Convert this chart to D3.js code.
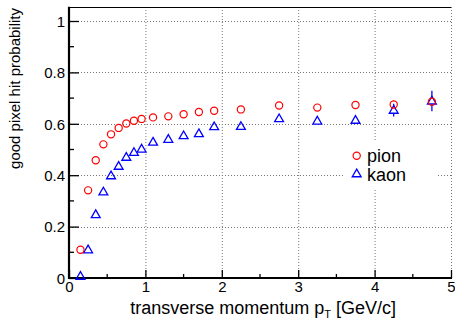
<!DOCTYPE html>
<html><head><meta charset="utf-8">
<script src="https://cdn.jsdelivr.net/npm/d3@7"></script>
<style>body{margin:0;background:#fff}svg{display:block}text{font-family:"Liberation Sans",Arial,sans-serif}</style>
</head><body>
<script>
const pT = [0.15,0.25,0.35,0.45,0.55,0.65,0.75,0.85,0.95,1.1,1.3,1.5,1.7,1.9,2.25,2.75,3.25,3.75,4.25,4.75];
const pion = [0.11,0.341,0.458,0.52,0.559,0.584,0.601,0.612,0.619,0.625,0.629,0.637,0.646,0.651,0.656,0.671,0.663,0.673,0.675,0.686];
const kaon = [0.007,0.11,0.247,0.335,0.398,0.435,0.47,0.489,0.502,0.529,0.54,0.554,0.562,0.589,0.59,0.62,0.611,0.614,0.653,0.689];
const pionErr = [0,0,0,0,0,0,0,0,0,0,0,0,0,0,0,0,0,0,0.008,0.012];
const kaonErr = [0,0,0,0,0,0,0,0,0,0,0,0,0,0,0,0,0,0,0.025,0.04];
const xTicks = [0,1,2,3,4,5];
const yTicks = [0,0.2,0.4,0.6,0.8,1];
const yTickLabels = ["0","0.2","0.4","0.6","0.8","1"];
const seriesNames = ["pion","kaon"];

const W=455,H=322;
const x = d3.scaleLinear([0,5],[69,451]);
const y = d3.scaleLinear([0,1],[278,21]);
const yTop = 1.055;
const svg = d3.select("body").append("svg").attr("width",W).attr("height",H);

// grid
const grid = svg.append("g").attr("stroke","#777").attr("stroke-width",1).attr("stroke-dasharray","1,2");
xTicks.slice(1).forEach(t=>grid.append("line").attr("x1",x(t)+0.5).attr("x2",x(t)+0.5).attr("y1",y(0)).attr("y2",y(yTop)));
yTicks.slice(1).forEach(t=>grid.append("line").attr("x1",x(0)).attr("x2",x(5)).attr("y1",Math.round(y(t))+0.5).attr("y2",Math.round(y(t))+0.5));

// frame top
svg.append("line").attr("x1",x(0)).attr("x2",x(5)).attr("y1",Math.round(y(yTop))+0.5).attr("y2",Math.round(y(yTop))+0.5).attr("stroke","#000").attr("stroke-width",1);

// axes with inward ticks
const xAxis = d3.axisBottom(x).tickValues(xTicks).tickSize(-8).tickPadding(3).tickFormat(d3.format("d"));
const gx = svg.append("g").attr("transform",`translate(0,${y(0)})`).call(xAxis);
gx.selectAll(".tick line").attr("stroke","#000").attr("stroke-width",1.3);
const xMinor = d3.range(0.5,5,1);
gx.selectAll(".minor").data(xMinor).enter().append("line").attr("x1",d=>x(d)).attr("x2",d=>x(d)).attr("y1",0).attr("y2",-4).attr("stroke","#000").attr("stroke-width",1.3);
gx.select(".domain").remove();
gx.selectAll("text").attr("font-size",15).attr("fill","#000").attr("font-family","Liberation Sans, Arial, sans-serif");

const yAxis = d3.axisLeft(y).tickValues(yTicks).tickSize(-10).tickPadding(4).tickFormat((d,i)=>yTickLabels[i]);
const gy = svg.append("g").attr("transform",`translate(${x(0)},0)`).call(yAxis);
gy.selectAll(".tick line").attr("stroke","#000").attr("stroke-width",1.3);
const yMinor = d3.range(0.1,1.05,0.2);
gy.selectAll(".minor").data(yMinor).enter().append("line").attr("x1",0).attr("x2",5).attr("y1",d=>y(d)).attr("y2",d=>y(d)).attr("stroke","#000").attr("stroke-width",1.3);
gy.select(".domain").remove();
gy.selectAll("text").attr("font-size",15).attr("fill","#000").attr("font-family","Liberation Sans, Arial, sans-serif").attr("dy","0.35em");

// frame left & bottom (thick)
svg.append("line").attr("x1",x(0)).attr("x2",x(0)).attr("y1",y(yTop)).attr("y2",y(0)+1).attr("stroke","#000").attr("stroke-width",2.2);
svg.append("line").attr("x1",x(0)-1).attr("x2",x(5)+1).attr("y1",y(0)).attr("y2",y(0)).attr("stroke","#000").attr("stroke-width",2.2);

// titles
svg.append("text").attr("transform",`translate(20,8) rotate(-90)`).attr("text-anchor","end").attr("font-size",15).text("good pixel hit probability");
const xt = svg.append("text").attr("x",396).attr("y",314).attr("text-anchor","end").attr("font-size",18);
xt.append("tspan").text("transverse momentum p");
xt.append("tspan").attr("font-size",11).attr("dy",4).text("T");
xt.append("tspan").attr("dy",-4).text(" [GeV/c]");

// markers
const R=3.6;
function errBars(vals,errs,color){
  const g=svg.append("g").attr("stroke",color).attr("stroke-width",1.3);
  pT.forEach((p,i)=>{
    const e=errs[i]; if(!e) return;
    const cx=x(p), cy=y(vals[i]), t=y(vals[i]+e), b=y(vals[i]-e);
    if(cy-t>R){ g.append("line").attr("x1",cx).attr("x2",cx).attr("y1",t).attr("y2",cy-R); g.append("line").attr("x1",cx).attr("x2",cx).attr("y1",cy+R).attr("y2",b);}
  });
}
errBars(kaon,kaonErr,"#0000ff");
errBars(pion,pionErr,"#ff0000");
const tri = d3.symbol().type(d3.symbolTriangle).size(34);
svg.append("g").selectAll("path").data(pT).enter().append("path")
  .attr("d",tri).attr("transform",(d,i)=>`translate(${x(d)},${y(kaon[i])+0.5})`)
  .attr("fill","none").attr("stroke","#0000ff").attr("stroke-width",1.3);
svg.append("g").selectAll("circle").data(pT).enter().append("circle")
  .attr("cx",d=>x(d)).attr("cy",(d,i)=>y(pion[i])).attr("r",R)
  .attr("fill","none").attr("stroke","#ff0000").attr("stroke-width",1.2);

// legend
svg.append("rect").attr("x",344).attr("y",140).attr("width",93).attr("height",48).attr("fill","#fff");
const lg = svg.append("g");
lg.append("circle").attr("cx",356.7).attr("cy",155.7).attr("r",R).attr("fill","none").attr("stroke","#ff0000").attr("stroke-width",1.2);
lg.append("path").attr("d",tri).attr("transform","translate(356.7,174.2)").attr("fill","none").attr("stroke","#0000ff").attr("stroke-width",1.3);
lg.append("text").attr("x",367).attr("y",162).attr("font-size",18).text(seriesNames[0]);
lg.append("text").attr("x",367).attr("y",180.5).attr("font-size",18).text(seriesNames[1]);
</script>
</body></html>
